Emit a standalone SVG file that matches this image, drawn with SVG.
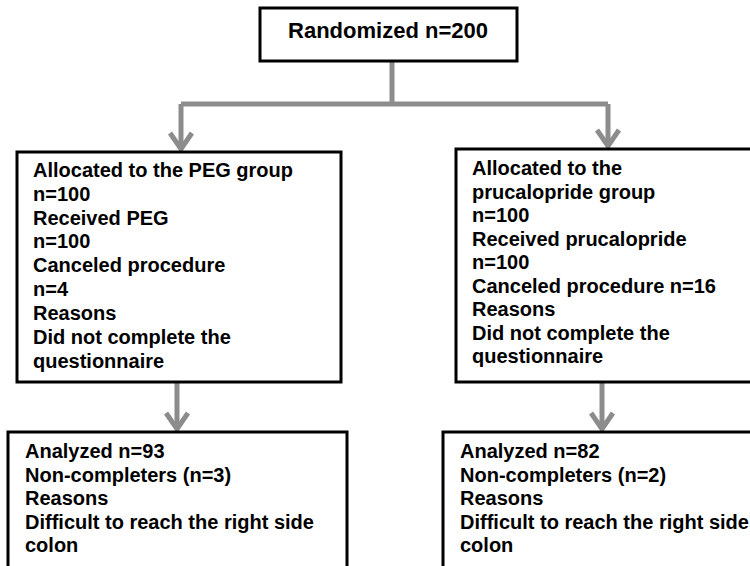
<svg xmlns="http://www.w3.org/2000/svg" width="750" height="566" viewBox="0 0 750 566">
<style>
.box{fill:#fff;stroke:#000;stroke-width:3}
.t{font-family:"Liberation Sans",Arial,sans-serif;font-weight:bold;font-size:20px;fill:#000}
.c{fill:none;stroke:#8c8c8c;stroke-width:5}
</style>
<defs>
<marker id="ah" viewBox="0 0 20 26" refX="18" refY="13" markerWidth="20" markerHeight="26" markerUnits="userSpaceOnUse" orient="auto">
<path d="M2,2 L18,13 L2,24" fill="none" stroke="#8c8c8c" stroke-width="5"/>
</marker>
</defs>
<g id="connectors">
<path class="c" d="M392,61 V104"/>
<path class="c" d="M181,104 H608"/>
<path class="c" d="M181,104 V149" marker-end="url(#ah)"/>
<path class="c" d="M608,104 V146" marker-end="url(#ah)"/>
<path class="c" d="M177,383 V429" marker-end="url(#ah)"/>
<path class="c" d="M602,383 V429" marker-end="url(#ah)"/>
</g>
<g id="randomized">
<rect class="box" x="260" y="8" width="257" height="53"/>
<text class="t" x="388" y="38" text-anchor="middle" style="font-size:22px">Randomized n=200</text>
</g>
<g id="peg">
<rect class="box" x="17" y="152" width="324" height="230"/>
<text class="t">
<tspan x="33" y="177">Allocated to the PEG group</tspan>
<tspan x="33" y="201">n=100</tspan>
<tspan x="33" y="225">Received PEG</tspan>
<tspan x="33" y="248">n=100</tspan>
<tspan x="33" y="272">Canceled procedure</tspan>
<tspan x="33" y="296">n=4</tspan>
<tspan x="33" y="320">Reasons</tspan>
<tspan x="33" y="344">Did not complete the</tspan>
<tspan x="33" y="368">questionnaire</tspan>
</text>
</g>
<g id="prucalopride">
<rect class="box" x="456" y="149" width="310" height="233"/>
<text class="t">
<tspan x="472" y="175">Allocated to the</tspan>
<tspan x="472" y="199">prucalopride group</tspan>
<tspan x="472" y="222">n=100</tspan>
<tspan x="472" y="246">Received prucalopride</tspan>
<tspan x="472" y="269">n=100</tspan>
<tspan x="472" y="293">Canceled procedure n=16</tspan>
<tspan x="472" y="316">Reasons</tspan>
<tspan x="472" y="340">Did not complete the</tspan>
<tspan x="472" y="363">questionnaire</tspan>
</text>
</g>
<g id="analyzed-peg">
<rect class="box" x="8" y="432" width="339" height="150"/>
<text class="t">
<tspan x="25" y="458">Analyzed n=93</tspan>
<tspan x="25" y="482">Non-completers (n=3)</tspan>
<tspan x="25" y="505">Reasons</tspan>
<tspan x="25" y="529">Difficult to reach the right side</tspan>
<tspan x="25" y="552">colon</tspan>
</text>
</g>
<g id="analyzed-pru">
<rect class="box" x="443" y="432" width="320" height="150"/>
<text class="t">
<tspan x="460" y="458">Analyzed n=82</tspan>
<tspan x="460" y="482">Non-completers (n=2)</tspan>
<tspan x="460" y="505">Reasons</tspan>
<tspan x="460" y="529">Difficult to reach the right side</tspan>
<tspan x="460" y="552">colon</tspan>
</text>
</g>
</svg>
